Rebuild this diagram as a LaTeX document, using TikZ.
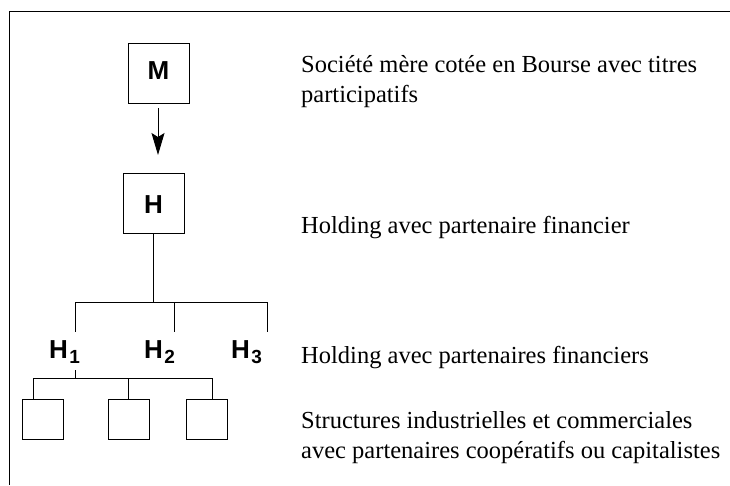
\documentclass[tikz,border=0pt]{standalone}
\usepackage{fontspec}
\setmainfont{Liberation Serif}
\newfontfamily\labelfont{Liberation Sans}
\usetikzlibrary{arrows.meta}
\begin{document}
\begin{tikzpicture}[x=1pt,y=-1pt,
  box/.style={draw, line width=1pt, minimum width=61pt, minimum height=60pt, inner sep=0pt},
  smallbox/.style={draw, line width=1pt, minimum width=41pt, minimum height=40pt, inner sep=0pt},
  lbl/.style={font=\labelfont\bfseries\fontsize{26}{26}\selectfont, inner sep=0pt, anchor=base},
  desc/.style={font=\fontsize{24.5}{30}\selectfont, inner sep=0pt, anchor=base west, align=left},
  conn/.style={line width=1pt}]
\useasboundingbox (0,0) rectangle (730,485);
% frame
\coordinate (frTR) at (730,11);
\coordinate (frTL) at (9,11);
\coordinate (frBL) at (9,485);
\draw[conn] (frTR) -- (frTL) -- (frBL);
% top boxes
\node[box] (M) at (158.5,73) {};
\node[lbl] (Mt) at (158.5,79) {M};
\node[box] (H) at (153.5,203) {};
\node[lbl] (Ht) at (153.5,213) {H};
\coordinate (arrS) at (158,108);
\coordinate (arrE) at (158,155);
\draw[conn,-{Stealth[length=22pt,width=13pt,inset=4pt]}] (arrS) -- (arrE);
% bus to H1..H3
\coordinate (bus) at (153.5,302);
\coordinate (busL) at (75,302);
\coordinate (busM) at (174,302);
\coordinate (busR) at (267,302);
\coordinate (h1t) at (75,332);
\coordinate (h2t) at (174,332);
\coordinate (h3t) at (267,332);
\draw[conn] (H.south) -- (bus);
\draw[conn] (busL) -- (busR);
\draw[conn] (busL) -- (h1t);
\draw[conn] (busM) -- (h2t);
\draw[conn] (busR) -- (h3t);
\node[lbl, anchor=base west] (H1) at (49,358) {H\kern1.5pt\raisebox{-5pt}{\fontsize{19}{19}\selectfont 1}};
\node[lbl, anchor=base west] (H2) at (144,358) {H\kern1.5pt\raisebox{-5pt}{\fontsize{19}{19}\selectfont 2}};
\node[lbl, anchor=base west] (H3) at (231,358) {H\kern1.5pt\raisebox{-5pt}{\fontsize{19}{19}\selectfont 3}};
% sub structures
\node[smallbox] (S1) at (43,419) {};
\node[smallbox] (S2) at (128.5,419) {};
\node[smallbox] (S3) at (206.5,419) {};
\coordinate (h1b) at (75,370);
\coordinate (sb) at (75,378);
\coordinate (sbL) at (33,378);
\coordinate (sbM) at (128.5,378);
\coordinate (sbR) at (212,378);
\draw[conn] (h1b) -- (sb);
\draw[conn] (sbL) -- (sbR);
\draw[conn] (sbL) -- (sbL |- S1.north);
\draw[conn] (sbM) -- (S2.north);
\draw[conn] (sbR) -- (sbR |- S3.north);
% descriptions (base anchor = baseline of last line)
\node[desc] (d1) at (301,102) {Société mère cotée en Bourse avec titres\\participatifs};
\node[desc] (d2) at (301,233) {Holding avec partenaire financier};
\node[desc] (d3) at (301,363) {Holding avec partenaires financiers};
\node[desc] (d4) at (301,458) {Structures industrielles et commerciales\\avec partenaires coopératifs ou capitalistes};
\end{tikzpicture}
\end{document}
